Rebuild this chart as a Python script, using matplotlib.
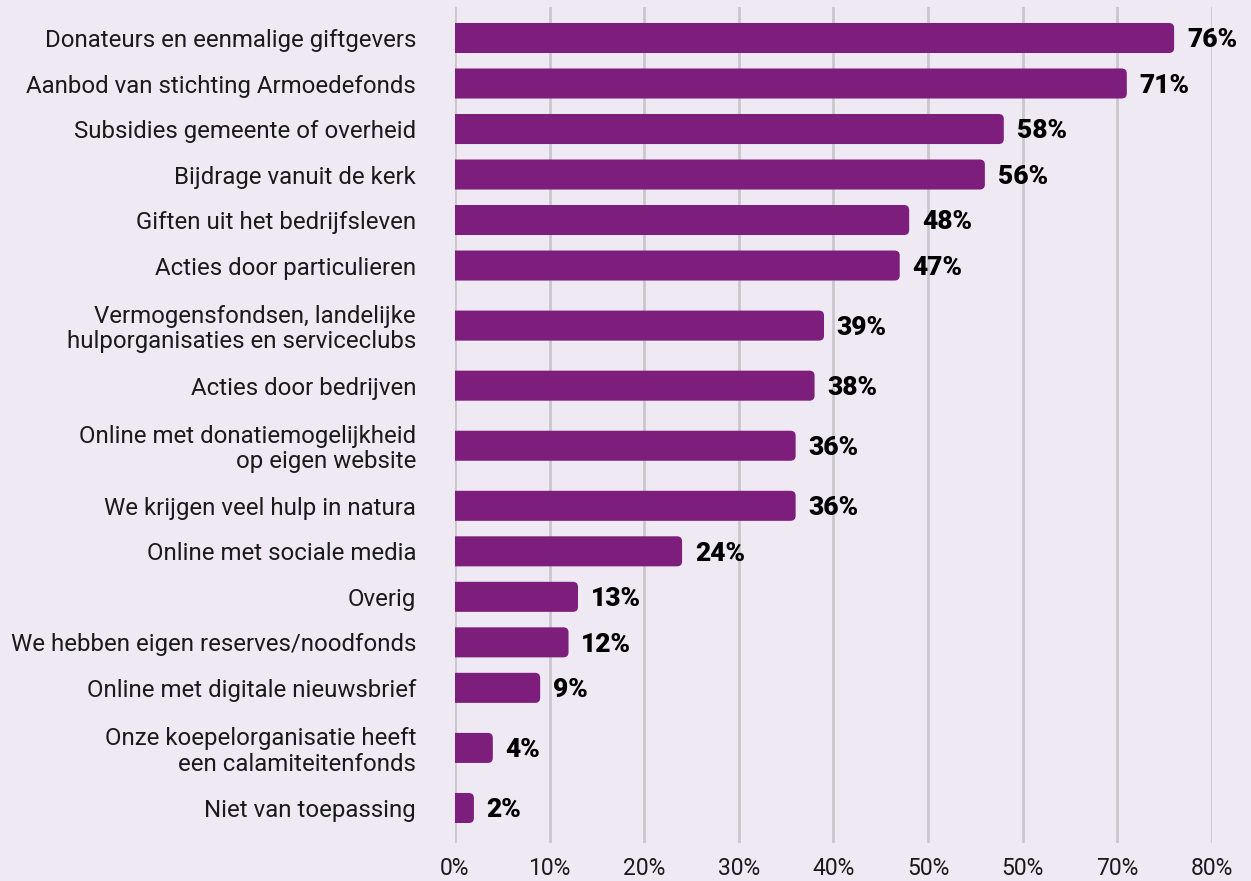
import matplotlib
matplotlib.use("Agg")
import matplotlib.pyplot as plt
from matplotlib.patches import FancyBboxPatch
from matplotlib import font_manager
import numpy as np

categories = [
    "Donateurs en eenmalige giftgevers",
    "Aanbod van stichting Armoedefonds",
    "Subsidies gemeente of overheid",
    "Bijdrage vanuit de kerk",
    "Giften uit het bedrijfsleven",
    "Acties door particulieren",
    "Vermogensfondsen, landelijke\nhulporganisaties en serviceclubs",
    "Acties door bedrijven",
    "Online met donatiemogelijkheid\nop eigen website",
    "We krijgen veel hulp in natura",
    "Online met sociale media",
    "Overig",
    "We hebben eigen reserves/noodfonds",
    "Online met digitale nieuwsbrief",
    "Onze koepelorganisatie heeft\neen calamiteitenfonds",
    "Niet van toepassing",
]
values = [76, 71, 58, 56, 48, 47, 39, 38, 36, 36, 24, 13, 12, 9, 4, 2]
value_labels = ["76%", "71%", "58%", "56%", "48%", "47%", "39%", "38%", "36%",
                "36%", "24%", "13%", "12%", "9%", "4%", "2%"]
xtick_values = [0, 10, 20, 30, 40, 50, 60, 70, 80]
xtick_labels = ["0%", "10%", "20%", "30%", "40%", "50%", "50%", "70%", "80%"]

BG = "#EEE9F3"
PURPLE = "#7D1E7C"
GRID = "#C9C7CC"

names = {f.name for f in font_manager.fontManager.ttflist}
base_font = "Roboto" if "Roboto" in names else "DejaVu Sans"

fig = plt.figure(figsize=(12.51, 8.81), dpi=100, facecolor=BG)
ax = fig.add_axes([0.3637, 0.0431, 0.9688 - 0.3637, 0.992 - 0.0431])
ax.set_facecolor(BG)

row_h = np.array([1.0 if "\n" not in c else 1.64 for c in categories])
centers = np.zeros(len(categories))
for i in range(1, len(categories)):
    centers[i] = centers[i - 1] + (row_h[i - 1] + row_h[i]) / 2

bar_h = 0.66
ax.set_xlim(0, 80)
ax.set_ylim(centers[-1] + 0.77, centers[0] - 0.68)

for x in xtick_values:
    ax.axvline(x, color=GRID, lw=2, zorder=0)

for y, v, lab in zip(centers, values, value_labels):
    p = FancyBboxPatch((-2, y - bar_h / 2), v + 2, bar_h,
                       boxstyle="round,pad=0,rounding_size=0.55",
                       mutation_aspect=0.2,
                       facecolor=PURPLE, edgecolor="none", zorder=2,
                       clip_on=True)
    ax.add_patch(p)
    ax.text(v + 1.35, y + 0.05, lab, va="center", ha="left", fontsize=19,
            fontweight="black", family=base_font, color="black", zorder=3)

ax.set_yticks(centers)
ax.set_yticklabels(categories, fontsize=17.3, family=base_font, color="#1a1a1a",
                   linespacing=1.12)
ax.set_xticks(xtick_values)
ax.set_xticklabels(xtick_labels, fontsize=16.5, family=base_font, color="#1a1a1a")
ax.tick_params(axis="y", length=0, pad=28)
ax.tick_params(axis="x", length=0, pad=10)
for s in ax.spines.values():
    s.set_visible(False)

fig.savefig("out.png", dpi=100, facecolor=BG)
